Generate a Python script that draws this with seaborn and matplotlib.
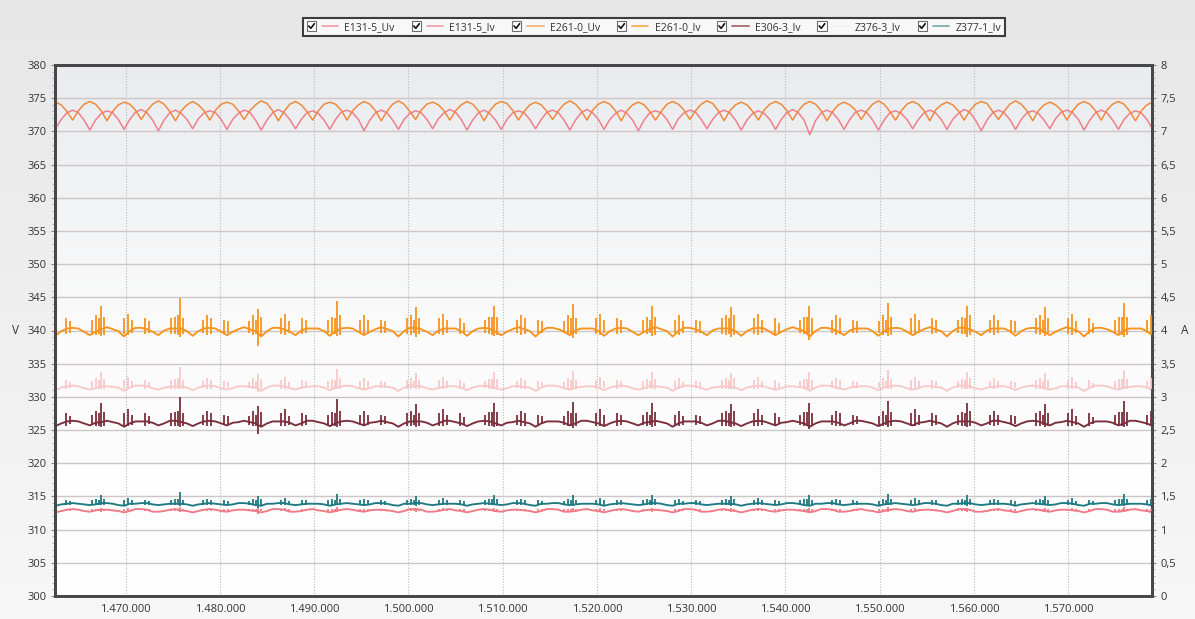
import numpy as np
import pandas as pd
import matplotlib
matplotlib.use("Agg")
import matplotlib.pyplot as plt
import seaborn as sns
from matplotlib.colors import LinearSegmentedColormap
from matplotlib.legend_handler import HandlerBase
from matplotlib.patches import Rectangle
from matplotlib.lines import Line2D
from matplotlib.ticker import MultipleLocator, FuncFormatter

# ---------------- data ----------------
t_start = 1462555      # first sample time
t_step = 606.33        # sample spacing (1/6 of a mains half-wave arc)

series_names = ["E131-5_Uv", "E131-5_Iv", "E261-0_Uv", "E261-0_Iv",
                "E306-3_Iv", "Z376-3_Iv", "Z377-1_Iv"]
series_colors = ["#ef7f8e", "#f07a86", "#ef8a3d", "#f7941e",
                 "#7a2e3b", "#f7c9c9", "#1f7a82"]
legend_colors = ["#f29aa5", "#f29aa5", "#f5ad70", "#f5a54c",
                 "#a25c68", "#f3f3f3", "#6fa9ab"]

# voltages (V, left axis)
e131_uv = [
    370.4, 371.8, 372.8, 373.2, 372.8, 371.7,
    370.2, 371.7, 372.7, 373.1, 372.8, 371.8,
    370.3, 371.8, 372.9, 373.3, 372.8, 371.7,
    370.1, 371.7, 372.8, 373.2, 372.7, 371.8,
    370.4, 371.9, 372.8, 373.1, 372.8, 371.8,
    370.3, 371.8, 372.7, 373.2, 372.9, 371.7,
    370.2, 371.7, 372.8, 373.3, 372.8, 371.8,
    370.4, 371.8, 372.8, 373.1, 372.7, 371.7,
    370.3, 371.8, 372.9, 373.2, 372.8, 371.8,
    370.1, 371.7, 372.8, 373.2, 372.8, 371.7,
    370.3, 371.8, 372.7, 373.1, 372.8, 371.8,
    370.4, 371.9, 372.8, 373.3, 372.9, 371.8,
    370.2, 371.7, 372.8, 373.2, 372.7, 371.7,
    370.3, 371.8, 372.8, 373.1, 372.8, 371.8,
    370.4, 371.8, 372.9, 373.2, 372.8, 371.7,
    370.2, 371.7, 372.8, 373.3, 372.8, 371.8,
    370.3, 371.8, 372.7, 373.2, 372.7, 371.7,
    370.1, 371.7, 372.8, 373.1, 372.8, 371.8,
    370.3, 371.9, 372.8, 373.2, 372.9, 371.8,
    370.4, 371.8, 372.8, 373.2, 372.8, 371.7,
    370.2, 371.7, 372.7, 373.1, 372.7, 371.8,
    370.3, 371.8, 372.8, 373.3, 372.8, 371.7,
    369.5, 371.6, 372.8, 373.2, 372.8, 371.8,
    370.3, 371.8, 372.9, 373.2, 372.8, 371.7,
    370.2, 371.7, 372.8, 373.1, 372.7, 371.8,
    370.4, 371.8, 372.8, 373.2, 372.8, 371.8,
    370.3, 371.8, 372.7, 373.3, 372.9, 371.7,
    370.1, 371.7, 372.8, 373.2, 372.8, 371.8,
    370.3, 371.8, 372.8, 373.1, 372.7, 371.7,
    370.4, 371.9, 372.9, 373.2, 372.8, 371.8,
    370.2, 371.7, 372.8, 373.2, 372.8, 371.7,
    370.3, 371.8, 372.7, 373.1, 372.8, 371.8,
    370.3]

e261_uv = [
    374.4, 374.0, 373.0, 371.7, 373.1, 374.1,
    374.5, 374.1, 373.1, 371.6, 373.0, 374.0,
    374.4, 374.1, 373.2, 371.8, 373.1, 374.1,
    374.6, 374.1, 373.0, 371.6, 373.1, 374.0,
    374.5, 374.0, 373.1, 371.7, 373.2, 374.1,
    374.4, 374.1, 373.1, 371.8, 373.1, 374.0,
    374.6, 374.2, 373.1, 371.6, 373.0, 374.1,
    374.5, 374.0, 373.0, 371.7, 373.1, 374.1,
    374.4, 374.1, 373.2, 371.7, 373.1, 374.0,
    374.5, 374.1, 373.1, 371.6, 373.0, 374.1,
    374.6, 374.1, 373.0, 371.8, 373.2, 374.1,
    374.4, 374.0, 373.1, 371.7, 373.1, 374.0,
    374.5, 374.1, 373.1, 371.6, 373.1, 374.1,
    374.5, 374.2, 373.2, 371.7, 373.0, 374.0,
    374.4, 374.0, 373.0, 371.8, 373.1, 374.1,
    374.6, 374.1, 373.1, 371.7, 373.2, 374.1,
    374.5, 374.1, 373.1, 371.6, 373.1, 374.0,
    374.4, 374.0, 373.0, 371.7, 373.0, 374.1,
    374.5, 374.1, 373.2, 371.8, 373.1, 374.1,
    374.6, 374.2, 373.1, 371.6, 373.1, 374.0,
    374.4, 374.0, 373.0, 371.7, 373.2, 374.1,
    374.5, 374.1, 373.1, 371.7, 373.1, 374.1,
    374.5, 374.1, 373.1, 371.6, 373.0, 374.0,
    374.4, 374.0, 373.2, 371.8, 373.1, 374.1,
    374.6, 374.1, 373.0, 371.7, 373.1, 374.1,
    374.5, 374.1, 373.1, 371.6, 373.2, 374.0,
    374.4, 374.0, 373.1, 371.7, 373.1, 374.1,
    374.5, 374.2, 373.0, 371.8, 373.0, 374.1,
    374.6, 374.1, 373.1, 371.6, 373.1, 374.0,
    374.4, 374.0, 373.2, 371.7, 373.1, 374.1,
    374.5, 374.1, 373.1, 371.7, 373.2, 374.1,
    374.5, 374.1, 373.0, 371.6, 373.1, 374.0,
    374.4]

# currents (A, right axis)
e261_iv = [
    3.92, 3.99, 4.03, 4.04, 4.03, 3.98,
    3.93, 3.98, 4.02, 4.05, 4.02, 3.99,
    3.91, 3.99, 4.04, 4.04, 4.02, 3.98,
    3.93, 4.00, 4.03, 4.03, 4.03, 3.99,
    3.92, 3.99, 4.03, 4.04, 4.03, 3.98,
    3.93, 3.98, 4.02, 4.05, 4.02, 3.99,
    3.91, 3.99, 4.04, 4.04, 4.02, 3.98,
    3.93, 4.00, 4.03, 4.03, 4.03, 3.99,
    3.92, 3.99, 4.03, 4.04, 4.03, 3.98,
    3.93, 3.98, 4.02, 4.05, 4.02, 3.99,
    3.91, 3.99, 4.04, 4.04, 4.02, 3.98,
    3.93, 4.00, 4.03, 4.03, 4.03, 3.99,
    3.92, 3.99, 4.03, 4.04, 4.03, 3.98,
    3.93, 3.98, 4.02, 4.05, 4.02, 3.99,
    3.91, 3.99, 4.04, 4.04, 4.02, 3.98,
    3.93, 4.00, 4.03, 4.03, 4.03, 3.99,
    3.92, 3.99, 4.03, 4.04, 4.03, 3.98,
    3.93, 3.98, 4.02, 4.05, 4.02, 3.99,
    3.91, 3.99, 4.04, 4.04, 4.02, 3.98,
    3.93, 4.00, 4.03, 4.03, 4.03, 3.99,
    3.92, 3.99, 4.03, 4.04, 4.03, 3.98,
    3.93, 3.98, 4.02, 4.05, 4.02, 3.99,
    3.91, 3.99, 4.04, 4.04, 4.02, 3.98,
    3.93, 4.00, 4.03, 4.03, 4.03, 3.99,
    3.92, 3.99, 4.03, 4.04, 4.03, 3.98,
    3.93, 3.98, 4.02, 4.05, 4.02, 3.99,
    3.91, 3.99, 4.04, 4.04, 4.02, 3.98,
    3.93, 4.00, 4.03, 4.03, 4.03, 3.99,
    3.92, 3.99, 4.03, 4.04, 4.03, 3.98,
    3.93, 3.98, 4.02, 4.05, 4.02, 3.99,
    3.91, 3.99, 4.04, 4.04, 4.02, 3.98,
    3.93, 4.00, 4.03, 4.03, 4.03, 3.99,
    3.92]

z376_iv = [
    3.10, 3.14, 3.16, 3.17, 3.16, 3.13,
    3.11, 3.13, 3.16, 3.16, 3.15, 3.14,
    3.09, 3.14, 3.17, 3.17, 3.16, 3.13,
    3.11, 3.14, 3.15, 3.16, 3.16, 3.14,
    3.10, 3.14, 3.16, 3.17, 3.16, 3.13,
    3.11, 3.13, 3.16, 3.16, 3.15, 3.14,
    3.09, 3.14, 3.17, 3.17, 3.16, 3.13,
    3.11, 3.14, 3.15, 3.16, 3.16, 3.14,
    3.10, 3.14, 3.16, 3.17, 3.16, 3.13,
    3.11, 3.13, 3.16, 3.16, 3.15, 3.14,
    3.09, 3.14, 3.17, 3.17, 3.16, 3.13,
    3.11, 3.14, 3.15, 3.16, 3.16, 3.14,
    3.10, 3.14, 3.16, 3.17, 3.16, 3.13,
    3.11, 3.13, 3.16, 3.16, 3.15, 3.14,
    3.09, 3.14, 3.17, 3.17, 3.16, 3.13,
    3.11, 3.14, 3.15, 3.16, 3.16, 3.14,
    3.10, 3.14, 3.16, 3.17, 3.16, 3.13,
    3.11, 3.13, 3.16, 3.16, 3.15, 3.14,
    3.09, 3.14, 3.17, 3.17, 3.16, 3.13,
    3.11, 3.14, 3.15, 3.16, 3.16, 3.14,
    3.10, 3.14, 3.16, 3.17, 3.16, 3.13,
    3.11, 3.13, 3.16, 3.16, 3.15, 3.14,
    3.09, 3.14, 3.17, 3.17, 3.16, 3.13,
    3.11, 3.14, 3.15, 3.16, 3.16, 3.14,
    3.10, 3.14, 3.16, 3.17, 3.16, 3.13,
    3.11, 3.13, 3.16, 3.16, 3.15, 3.14,
    3.09, 3.14, 3.17, 3.17, 3.16, 3.13,
    3.11, 3.14, 3.15, 3.16, 3.16, 3.14,
    3.10, 3.14, 3.16, 3.17, 3.16, 3.13,
    3.11, 3.13, 3.16, 3.16, 3.15, 3.14,
    3.09, 3.14, 3.17, 3.17, 3.16, 3.13,
    3.11, 3.14, 3.15, 3.16, 3.16, 3.14,
    3.10]

e306_iv = [
    2.56, 2.60, 2.63, 2.64, 2.63, 2.60,
    2.57, 2.61, 2.62, 2.64, 2.62, 2.60,
    2.55, 2.60, 2.63, 2.63, 2.63, 2.61,
    2.57, 2.60, 2.64, 2.64, 2.62, 2.60,
    2.56, 2.60, 2.63, 2.64, 2.63, 2.60,
    2.57, 2.61, 2.62, 2.64, 2.62, 2.60,
    2.55, 2.60, 2.63, 2.63, 2.63, 2.61,
    2.57, 2.60, 2.64, 2.64, 2.62, 2.60,
    2.56, 2.60, 2.63, 2.64, 2.63, 2.60,
    2.57, 2.61, 2.62, 2.64, 2.62, 2.60,
    2.55, 2.60, 2.63, 2.63, 2.63, 2.61,
    2.57, 2.60, 2.64, 2.64, 2.62, 2.60,
    2.56, 2.60, 2.63, 2.64, 2.63, 2.60,
    2.57, 2.61, 2.62, 2.64, 2.62, 2.60,
    2.55, 2.60, 2.63, 2.63, 2.63, 2.61,
    2.57, 2.60, 2.64, 2.64, 2.62, 2.60,
    2.56, 2.60, 2.63, 2.64, 2.63, 2.60,
    2.57, 2.61, 2.62, 2.64, 2.62, 2.60,
    2.55, 2.60, 2.63, 2.63, 2.63, 2.61,
    2.57, 2.60, 2.64, 2.64, 2.62, 2.60,
    2.56, 2.60, 2.63, 2.64, 2.63, 2.60,
    2.57, 2.61, 2.62, 2.64, 2.62, 2.60,
    2.55, 2.60, 2.63, 2.63, 2.63, 2.61,
    2.57, 2.60, 2.64, 2.64, 2.62, 2.60,
    2.56, 2.60, 2.63, 2.64, 2.63, 2.60,
    2.57, 2.61, 2.62, 2.64, 2.62, 2.60,
    2.55, 2.60, 2.63, 2.63, 2.63, 2.61,
    2.57, 2.60, 2.64, 2.64, 2.62, 2.60,
    2.56, 2.60, 2.63, 2.64, 2.63, 2.60,
    2.57, 2.61, 2.62, 2.64, 2.62, 2.60,
    2.55, 2.60, 2.63, 2.63, 2.63, 2.61,
    2.57, 2.60, 2.64, 2.64, 2.62, 2.60,
    2.56]

z377_iv = [
    1.36, 1.38, 1.39, 1.40, 1.39, 1.38,
    1.37, 1.38, 1.40, 1.40, 1.39, 1.37,
    1.36, 1.39, 1.39, 1.40, 1.40, 1.38,
    1.37, 1.38, 1.39, 1.39, 1.39, 1.38,
    1.36, 1.38, 1.39, 1.40, 1.39, 1.38,
    1.37, 1.38, 1.40, 1.40, 1.39, 1.37,
    1.36, 1.39, 1.39, 1.40, 1.40, 1.38,
    1.37, 1.38, 1.39, 1.39, 1.39, 1.38,
    1.36, 1.38, 1.39, 1.40, 1.39, 1.38,
    1.37, 1.38, 1.40, 1.40, 1.39, 1.37,
    1.36, 1.39, 1.39, 1.40, 1.40, 1.38,
    1.37, 1.38, 1.39, 1.39, 1.39, 1.38,
    1.36, 1.38, 1.39, 1.40, 1.39, 1.38,
    1.37, 1.38, 1.40, 1.40, 1.39, 1.37,
    1.36, 1.39, 1.39, 1.40, 1.40, 1.38,
    1.37, 1.38, 1.39, 1.39, 1.39, 1.38,
    1.36, 1.38, 1.39, 1.40, 1.39, 1.38,
    1.37, 1.38, 1.40, 1.40, 1.39, 1.37,
    1.36, 1.39, 1.39, 1.40, 1.40, 1.38,
    1.37, 1.38, 1.39, 1.39, 1.39, 1.38,
    1.36, 1.38, 1.39, 1.40, 1.39, 1.38,
    1.37, 1.38, 1.40, 1.40, 1.39, 1.37,
    1.36, 1.39, 1.39, 1.40, 1.40, 1.38,
    1.37, 1.38, 1.39, 1.39, 1.39, 1.38,
    1.36, 1.38, 1.39, 1.40, 1.39, 1.38,
    1.37, 1.38, 1.40, 1.40, 1.39, 1.37,
    1.36, 1.39, 1.39, 1.40, 1.40, 1.38,
    1.37, 1.38, 1.39, 1.39, 1.39, 1.38,
    1.36, 1.38, 1.39, 1.40, 1.39, 1.38,
    1.37, 1.38, 1.40, 1.40, 1.39, 1.37,
    1.36, 1.39, 1.39, 1.40, 1.40, 1.38,
    1.37, 1.38, 1.39, 1.39, 1.39, 1.38,
    1.36]

e131_iv = [
    1.26, 1.28, 1.30, 1.31, 1.30, 1.28,
    1.27, 1.29, 1.30, 1.30, 1.29, 1.28,
    1.26, 1.28, 1.31, 1.31, 1.30, 1.27,
    1.27, 1.28, 1.30, 1.31, 1.29, 1.28,
    1.26, 1.28, 1.30, 1.31, 1.30, 1.28,
    1.27, 1.29, 1.30, 1.30, 1.29, 1.28,
    1.26, 1.28, 1.31, 1.31, 1.30, 1.27,
    1.27, 1.28, 1.30, 1.31, 1.29, 1.28,
    1.26, 1.28, 1.30, 1.31, 1.30, 1.28,
    1.27, 1.29, 1.30, 1.30, 1.29, 1.28,
    1.26, 1.28, 1.31, 1.31, 1.30, 1.27,
    1.27, 1.28, 1.30, 1.31, 1.29, 1.28,
    1.26, 1.28, 1.30, 1.31, 1.30, 1.28,
    1.27, 1.29, 1.30, 1.30, 1.29, 1.28,
    1.26, 1.28, 1.31, 1.31, 1.30, 1.27,
    1.27, 1.28, 1.30, 1.31, 1.29, 1.28,
    1.26, 1.28, 1.30, 1.31, 1.30, 1.28,
    1.27, 1.29, 1.30, 1.30, 1.29, 1.28,
    1.26, 1.28, 1.31, 1.31, 1.30, 1.27,
    1.27, 1.28, 1.30, 1.31, 1.29, 1.28,
    1.26, 1.28, 1.30, 1.31, 1.30, 1.28,
    1.27, 1.29, 1.30, 1.30, 1.29, 1.28,
    1.26, 1.28, 1.31, 1.31, 1.30, 1.27,
    1.27, 1.28, 1.30, 1.31, 1.29, 1.28,
    1.26, 1.28, 1.30, 1.31, 1.30, 1.28,
    1.27, 1.29, 1.30, 1.30, 1.29, 1.28,
    1.26, 1.28, 1.31, 1.31, 1.30, 1.27,
    1.27, 1.28, 1.30, 1.31, 1.29, 1.28,
    1.26, 1.28, 1.30, 1.31, 1.30, 1.28,
    1.27, 1.29, 1.30, 1.30, 1.29, 1.28,
    1.26, 1.28, 1.31, 1.31, 1.30, 1.27,
    1.27, 1.28, 1.30, 1.31, 1.29, 1.28,
    1.26]

# switching spikes shared by all current channels
spike_t = [
    1463630, 1464055,
    1466391, 1466815, 1467134, 1467346, 1467664, 1469788, 1470212, 1470637, 1472017, 1472442,
    1474777, 1475201, 1475520, 1475732, 1476050, 1478174, 1478598, 1479023, 1480403, 1480828,
    1483058, 1483482, 1483801, 1484013, 1484331, 1486455, 1486879, 1487304, 1488684, 1489109,
    1491445, 1491869, 1492188, 1492400, 1492718, 1494842, 1495266, 1495691, 1497071, 1497496,
    1499831, 1500255, 1500574, 1500786, 1501104, 1503228, 1503652, 1504077, 1505457, 1505882,
    1508112, 1508536, 1508855, 1509067, 1509385, 1511509, 1511933, 1512358, 1513738, 1514163,
    1516499, 1516923, 1517242, 1517454, 1517772, 1519896, 1520320, 1520745, 1522125, 1522550,
    1524885, 1525309, 1525628, 1525840, 1526158, 1528282, 1528706, 1529131, 1530511, 1530936,
    1533270, 1533694, 1534013, 1534225, 1534543, 1536667, 1537091, 1537516, 1538896, 1539321,
    1541550, 1541974, 1542293, 1542505, 1542823, 1544947, 1545371, 1545796, 1547176, 1547601,
    1549939, 1550363, 1550682, 1550894, 1551212, 1553336, 1553760, 1554185, 1555565, 1555990,
    1558325, 1558749, 1559068, 1559280, 1559598, 1561722, 1562146, 1562571, 1563951, 1564376,
    1566605, 1567029, 1567348, 1567560, 1567878, 1570002, 1570426, 1570851, 1572231, 1572656,
    1574993, 1575417, 1575736, 1575948, 1576266, 1578390, 1578814]
spike_up = [
    0.35, 0.25,
    0.30, 0.45, 0.35, 0.75, 0.40, 0.35, 0.50, 0.30, 0.35, 0.25,
    0.35, 0.40, 0.45, 1.00, 0.35, 0.30, 0.45, 0.35, 0.30, 0.25,
    0.25, 0.45, 0.30, 0.65, 0.40, 0.35, 0.50, 0.25, 0.35, 0.30,
    0.30, 0.40, 0.35, 0.90, 0.45, 0.30, 0.45, 0.30, 0.30, 0.25,
    0.35, 0.45, 0.30, 0.70, 0.35, 0.35, 0.50, 0.30, 0.35, 0.20,
    0.30, 0.40, 0.40, 0.75, 0.40, 0.30, 0.45, 0.35, 0.30, 0.25,
    0.25, 0.45, 0.35, 0.80, 0.35, 0.35, 0.50, 0.30, 0.35, 0.30,
    0.30, 0.40, 0.30, 0.75, 0.40, 0.30, 0.45, 0.25, 0.30, 0.25,
    0.35, 0.45, 0.35, 0.70, 0.45, 0.35, 0.50, 0.30, 0.35, 0.20,
    0.30, 0.40, 0.40, 0.75, 0.35, 0.30, 0.45, 0.35, 0.30, 0.25,
    0.25, 0.45, 0.30, 0.85, 0.40, 0.35, 0.50, 0.30, 0.35, 0.30,
    0.30, 0.40, 0.35, 0.75, 0.45, 0.30, 0.45, 0.30, 0.30, 0.25,
    0.35, 0.45, 0.30, 0.70, 0.35, 0.35, 0.50, 0.25, 0.35, 0.20,
    0.30, 0.40, 0.40, 0.85, 0.40, 0.30, 0.45]
spike_dn = [
    0.30, 0.20,
    0.25, 0.35, 0.30, 0.40, 0.35, 0.30, 0.35, 0.25, 0.30, 0.20,
    0.30, 0.30, 0.35, 0.45, 0.30, 0.25, 0.35, 0.30, 0.25, 0.20,
    0.25, 0.35, 0.30, 1.00, 0.35, 0.30, 0.35, 0.25, 0.30, 0.25,
    0.25, 0.30, 0.30, 0.40, 0.35, 0.25, 0.35, 0.25, 0.25, 0.20,
    0.30, 0.35, 0.25, 0.45, 0.30, 0.30, 0.35, 0.25, 0.30, 0.20,
    0.25, 0.30, 0.35, 0.40, 0.35, 0.25, 0.35, 0.30, 0.25, 0.20,
    0.25, 0.35, 0.30, 0.50, 0.30, 0.30, 0.35, 0.25, 0.30, 0.25,
    0.25, 0.30, 0.25, 0.40, 0.35, 0.25, 0.35, 0.25, 0.25, 0.20,
    0.30, 0.35, 0.30, 0.45, 0.35, 0.30, 0.35, 0.25, 0.30, 0.20,
    0.25, 0.30, 0.35, 0.60, 0.30, 0.25, 0.35, 0.30, 0.25, 0.20,
    0.25, 0.35, 0.25, 0.40, 0.35, 0.30, 0.35, 0.25, 0.30, 0.25,
    0.25, 0.30, 0.30, 0.45, 0.35, 0.25, 0.35, 0.25, 0.25, 0.20,
    0.30, 0.35, 0.25, 0.40, 0.30, 0.30, 0.35, 0.25, 0.30, 0.20,
    0.25, 0.30, 0.35, 0.45, 0.35, 0.25, 0.35]

# per-channel nominal level and spike excursion (A)
spike_level = {"E261-0_Iv": 4.02, "Z376-3_Iv": 3.15, "E306-3_Iv": 2.62,
               "Z377-1_Iv": 1.39, "E131-5_Iv": 1.30}
spike_amp_up = {"E261-0_Iv": 0.47, "Z376-3_Iv": 0.30, "E306-3_Iv": 0.38,
                "Z377-1_Iv": 0.17, "E131-5_Iv": 0.04}
spike_amp_dn = {"E261-0_Iv": 0.26, "Z376-3_Iv": 0.08, "E306-3_Iv": 0.18,
                "Z377-1_Iv": 0.06, "E131-5_Iv": 0.07}

v_ticks = list(range(300, 381, 5))
a_ticks = [0, 0.5, 1, 1.5, 2, 2.5, 3, 3.5, 4, 4.5, 5, 5.5, 6, 6.5, 7, 7.5, 8]
x_ticks = [1470000, 1480000, 1490000, 1500000, 1510000, 1520000,
           1530000, 1540000, 1550000, 1560000, 1570000]
x_lim = (1462500, 1578900)

# ---------------- figure ----------------
sns.set_style("white")
plt.rcParams["font.family"] = ["Open Sans", "DejaVu Sans"]

W, H = 1195, 619
fig = plt.figure(figsize=(W / 100, H / 100), dpi=100)
fig.patch.set_facecolor("#eeeeee")

bg = fig.add_axes([0, 0, 1, 1], zorder=-10)
bg_cmap = LinearSegmentedColormap.from_list("figbg", ["#f7f7f7", "#e7e7e7"])
bg.imshow(np.linspace(0, 1, 200).reshape(-1, 1), cmap=bg_cmap, aspect="auto",
          extent=[0, 1, 0, 1], origin="lower")
bg.axis("off")

ax = fig.add_axes([55 / W, 1 - 596 / H, (1152 - 55) / W, (596 - 65) / H])
ax.set_facecolor("none")
ax_cmap = LinearSegmentedColormap.from_list("axbg", ["#ffffff", "#fbfbfb", "#e9ebee"])
ax.imshow(np.linspace(0, 1, 200).reshape(-1, 1), cmap=ax_cmap, aspect="auto",
          extent=[0, 1, 0, 1], origin="lower", transform=ax.transAxes, zorder=0)

n = len(e131_uv)
t = t_start + t_step * np.arange(n)
pal = dict(zip(series_names, series_colors))

df_v = pd.DataFrame({
    "t": np.concatenate([t, t]),
    "value": np.concatenate([e131_uv, e261_uv]),
    "series": np.repeat(["E131-5_Uv", "E261-0_Uv"], n),
})
sns.lineplot(data=df_v, x="t", y="value", hue="series", palette=pal,
             estimator=None, sort=False, lw=1.1, legend=False, ax=ax, zorder=3)

ax2 = ax.twinx()
cur_order = ["Z376-3_Iv", "E131-5_Iv", "Z377-1_Iv", "E306-3_Iv", "E261-0_Iv"]
cur_vals = {"E261-0_Iv": e261_iv, "Z376-3_Iv": z376_iv, "E306-3_Iv": e306_iv,
            "Z377-1_Iv": z377_iv, "E131-5_Iv": e131_iv}
df_a = pd.DataFrame({
    "t": np.concatenate([t] * len(cur_order)),
    "value": np.concatenate([cur_vals[s] for s in cur_order]),
    "series": np.repeat(cur_order, n),
})
sns.lineplot(data=df_a, x="t", y="value", hue="series", hue_order=cur_order,
             palette=pal, estimator=None, sort=False, lw=1.35, legend=False, ax=ax2)
st = np.array(spike_t)
su = np.array(spike_up)
sd = np.array(spike_dn)
for s in cur_order:
    lvl = spike_level[s]
    ax2.vlines(st, lvl - spike_amp_dn[s] * sd, lvl + spike_amp_up[s] * su,
               colors=pal[s], lw=1.3, zorder=3)

# axes
ax.set_xlim(*x_lim)
ax.set_ylim(300, 380)
ax2.set_ylim(0, 8)
ax2.set_xlim(*x_lim)
ax.set_xticks(x_ticks)
ax.xaxis.set_minor_locator(MultipleLocator(5000))
ax.set_yticks(v_ticks)
ax.yaxis.set_minor_locator(MultipleLocator(1))
ax2.set_yticks(a_ticks)
ax2.yaxis.set_minor_locator(MultipleLocator(0.1))
ax.xaxis.set_major_formatter(FuncFormatter(lambda v, p: f"{int(round(v)):,}".replace(",", ".")))
ax2.yaxis.set_major_formatter(FuncFormatter(lambda v, p: ("%g" % v).replace(".", ",")))

ax.set_xlabel("")
ax.set_ylabel("V", rotation=0, fontsize=8.5, color="#333333", va="center")
ax.yaxis.set_label_coords(-0.036, 0.5)
ax2.set_ylabel("A", rotation=0, fontsize=8.5, color="#333333", va="center")
ax2.yaxis.set_label_coords(1.03, 0.5)

for a in (ax, ax2):
    a.tick_params(axis="both", which="major", labelsize=8, labelcolor="#333333",
                  color="#888888", length=3, width=0.8, pad=3)
    a.tick_params(axis="both", which="minor", color="#aaaaaa", length=2, width=0.6)
    for sp in a.spines.values():
        sp.set_color("#474747")
        sp.set_linewidth(2)

ax.grid(axis="y", which="major", color="#ccc6c6", lw=1.0, ls="-")
ax.grid(axis="x", which="major", color="#b8b8b8", lw=0.8, ls=(0, (1, 1.5)))
ax.set_axisbelow(True)
ax2.grid(False)


# legend with check boxes
class CheckLine(HandlerBase):
    def create_artists(self, legend, orig_handle, xdescent, ydescent, width,
                       height, fontsize, trans):
        x0, y0 = -xdescent, -ydescent
        b = 6.6
        by = y0 + (height - b) / 2
        box = Rectangle((x0, by), b, b, facecolor="white", edgecolor="#6e6e6e",
                        lw=0.8, transform=trans)
        chk = Line2D([x0 + 0.2 * b, x0 + 0.42 * b, x0 + 0.8 * b],
                     [by + 0.5 * b, by + 0.25 * b, by + 0.75 * b],
                     color="#111111", lw=1.2, transform=trans)
        ln = Line2D([x0 + b + 4, x0 + width], [y0 + height / 2] * 2,
                    color=orig_handle.get_color(), lw=1.2, transform=trans)
        return [box, chk, ln]


handles = [Line2D([], [], color=c) for c in legend_colors]
leg = fig.legend(handles, series_names, handler_map={Line2D: CheckLine()},
                 loc="upper center", bbox_to_anchor=(654 / W, 1 - 18 / H),
                 ncol=7, fontsize=7.5, frameon=True, fancybox=False,
                 framealpha=1, facecolor="#f8f8f8", edgecolor="#3c3c3c",
                 handlelength=3.0, handletextpad=0.6, columnspacing=1.65,
                 borderpad=0.35, borderaxespad=0)
leg.get_frame().set_linewidth(1.5)
for txt in leg.get_texts():
    txt.set_color("#333333")

fig.savefig("out.png", dpi=100)
